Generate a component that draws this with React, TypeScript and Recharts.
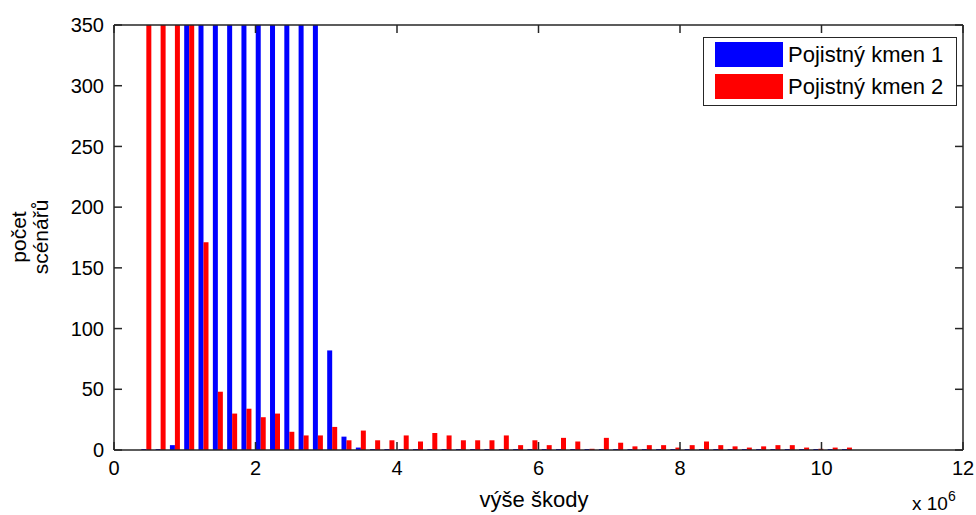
import { Bar, BarChart, ReferenceLine, XAxis, YAxis } from "recharts";

// bin centres, in millions (axis is labelled "x 10^6")
const binCenters = [
  0.459, 0.661, 0.863, 1.065, 1.267, 1.47, 1.672, 1.874, 2.076, 2.278,
  2.48, 2.682, 2.884, 3.086, 3.288, 3.491, 3.693, 3.895, 4.097, 4.299,
  4.501, 4.703, 4.905, 5.107, 5.309, 5.512, 5.714, 5.916, 6.118, 6.32,
  6.522, 6.724, 6.926, 7.128, 7.33, 7.533, 7.735, 7.937, 8.139, 8.341,
  8.543, 8.745, 8.947, 9.149, 9.351, 9.554, 9.756, 9.958, 10.16, 10.362,
];

// counts above 350 are cut off in the picture; those are rough guesses
const kmen1 = [
  0, 0, 4, 900, 1000, 1050, 1000, 1020, 980, 1010,
  990, 1000, 950, 82, 11, 2, 0, 0, 0, 0,
  0, 0, 0, 0, 0, 0, 0, 0, 0, 0,
  0, 0, 0, 0, 0, 0, 0, 0, 0, 0,
  0, 0, 0, 0, 0, 0, 0, 0, 0, 0,
];
const kmen2 = [
  2400, 1900, 1300, 700, 171, 48, 30, 34, 27, 30,
  15, 12, 12, 19, 8, 16, 8, 8, 12, 7,
  14, 12, 8, 8, 8, 12, 4, 8, 4, 10,
  7, 1, 10, 6, 3, 4, 4, 2, 4, 7,
  4, 3, 2, 3, 4, 4, 2, 1, 2, 2,
];

const xTicks = [0, 2, 4, 6, 8, 10, 12];
const yTicks = [0, 50, 100, 150, 200, 250, 300, 350];

const series = [
  { key: "kmen1", name: "Pojistný kmen 1", color: "#0000ff" },
  { key: "kmen2", name: "Pojistný kmen 2", color: "#ff0000" },
];

const data = binCenters.map((x, i) => ({ x, kmen1: kmen1[i], kmen2: kmen2[i] }));

const FONT = '"Liberation Sans", Arial, sans-serif';
const AXIS = "#262626";
const PLOT_TOP = 25;
const PLOT_LEFT = 114;
const PLOT_RIGHT = 963;
const PLOT_BOTTOM = 450;
const TICK_LEN = 8;

// MATLAB-style ticks: pointing inward, on both opposite sides of the box
function XTick({ x, payload }: any) {
  return (
    <g>
      <line x1={x} x2={x} y1={PLOT_BOTTOM} y2={PLOT_BOTTOM - TICK_LEN} stroke={AXIS} strokeWidth={1.5} />
      <line x1={x} x2={x} y1={PLOT_TOP} y2={PLOT_TOP + TICK_LEN} stroke={AXIS} strokeWidth={1.5} />
      <text x={x} y={PLOT_BOTTOM + 11} dy="0.71em" textAnchor="middle" fontSize={20} fontFamily={FONT} fill="#000">
        {payload.value}
      </text>
    </g>
  );
}

function YTick({ y, payload }: any) {
  return (
    <g>
      <line x1={PLOT_LEFT} x2={PLOT_LEFT + TICK_LEN} y1={y} y2={y} stroke={AXIS} strokeWidth={1.5} />
      <line x1={PLOT_RIGHT} x2={PLOT_RIGHT - TICK_LEN} y1={y} y2={y} stroke={AXIS} strokeWidth={1.5} />
      <text x={PLOT_LEFT - 10} y={y} dy="0.355em" textAnchor="end" fontSize={20} fontFamily={FONT} fill="#000">
        {payload.value}
      </text>
    </g>
  );
}

export default function App() {
  return (
    <div style={{ position: "relative", width: 976, height: 515, background: "#fff", fontFamily: FONT }}>
      <style>{"body{margin:0}"}</style>
      <BarChart
        width={976}
        height={515}
        data={data}
        margin={{ top: PLOT_TOP, right: 976 - PLOT_RIGHT, bottom: 0, left: 0 }}
        barGap={0}
      >
        <XAxis
          xAxisId="bottom"
          dataKey="x"
          type="number"
          domain={[0, 12]}
          ticks={xTicks}
          allowDataOverflow
          height={515 - PLOT_BOTTOM}
          tickSize={0}
          tickLine={false}
          stroke={AXIS}
          strokeWidth={1.5}
          tick={<XTick />}
        />
        <YAxis
          yAxisId="left"
          type="number"
          domain={[0, 350]}
          ticks={yTicks}
          allowDataOverflow
          width={PLOT_LEFT}
          tickSize={0}
          tickLine={false}
          stroke={AXIS}
          strokeWidth={1.5}
          tick={<YTick />}
        />
        {series.map((s) => (
          <Bar
            key={s.key}
            dataKey={s.key}
            name={s.name}
            xAxisId="bottom"
            yAxisId="left"
            fill={s.color}
            barSize={5}
            minPointSize={1}
            isAnimationActive={false}
          />
        ))}
        {/* top and right edges of the box */}
        <ReferenceLine xAxisId="bottom" yAxisId="left" y={350} stroke={AXIS} strokeWidth={1.5} />
        <ReferenceLine xAxisId="bottom" yAxisId="left" x={12} stroke={AXIS} strokeWidth={1.5} />
      </BarChart>

      {/* legend box, MATLAB style */}
      <div
        style={{
          position: "absolute",
          left: 703,
          top: 37,
          width: 252,
          height: 67,
          border: `1.5px solid ${AXIS}`,
          background: "#fff",
        }}
      >
        {series.map((s, i) => (
          <div
            key={s.key}
            style={{ position: "absolute", left: 11, top: 4 + i * 32, display: "flex", alignItems: "center", height: 25 }}
          >
            <div style={{ width: 68, height: 25, background: s.color }} />
            <span style={{ marginLeft: 5, fontSize: 22, lineHeight: "25px", color: "#000" }}>{s.name}</span>
          </div>
        ))}
      </div>

      {/* y label, two lines */}
      <div
        style={{
          position: "absolute",
          left: 30,
          top: 237,
          transform: "translate(-50%, -50%) rotate(-90deg)",
          textAlign: "center",
          fontSize: 21,
          lineHeight: "22px",
          whiteSpace: "nowrap",
          color: "#000",
        }}
      >
        počet
        <br />
        scénářů
      </div>

      {/* x label */}
      <div
        style={{
          position: "absolute",
          left: 534,
          top: 500,
          transform: "translate(-50%, -50%)",
          fontSize: 22,
          whiteSpace: "nowrap",
          color: "#000",
        }}
      >
        výše škody
      </div>

      {/* exponent */}
      <div style={{ position: "absolute", left: 912, top: 490, fontSize: 19, color: "#000", whiteSpace: "nowrap" }}>
        x 10<sup style={{ fontSize: 14, position: "relative", top: -2 }}>6</sup>
      </div>
    </div>
  );
}
